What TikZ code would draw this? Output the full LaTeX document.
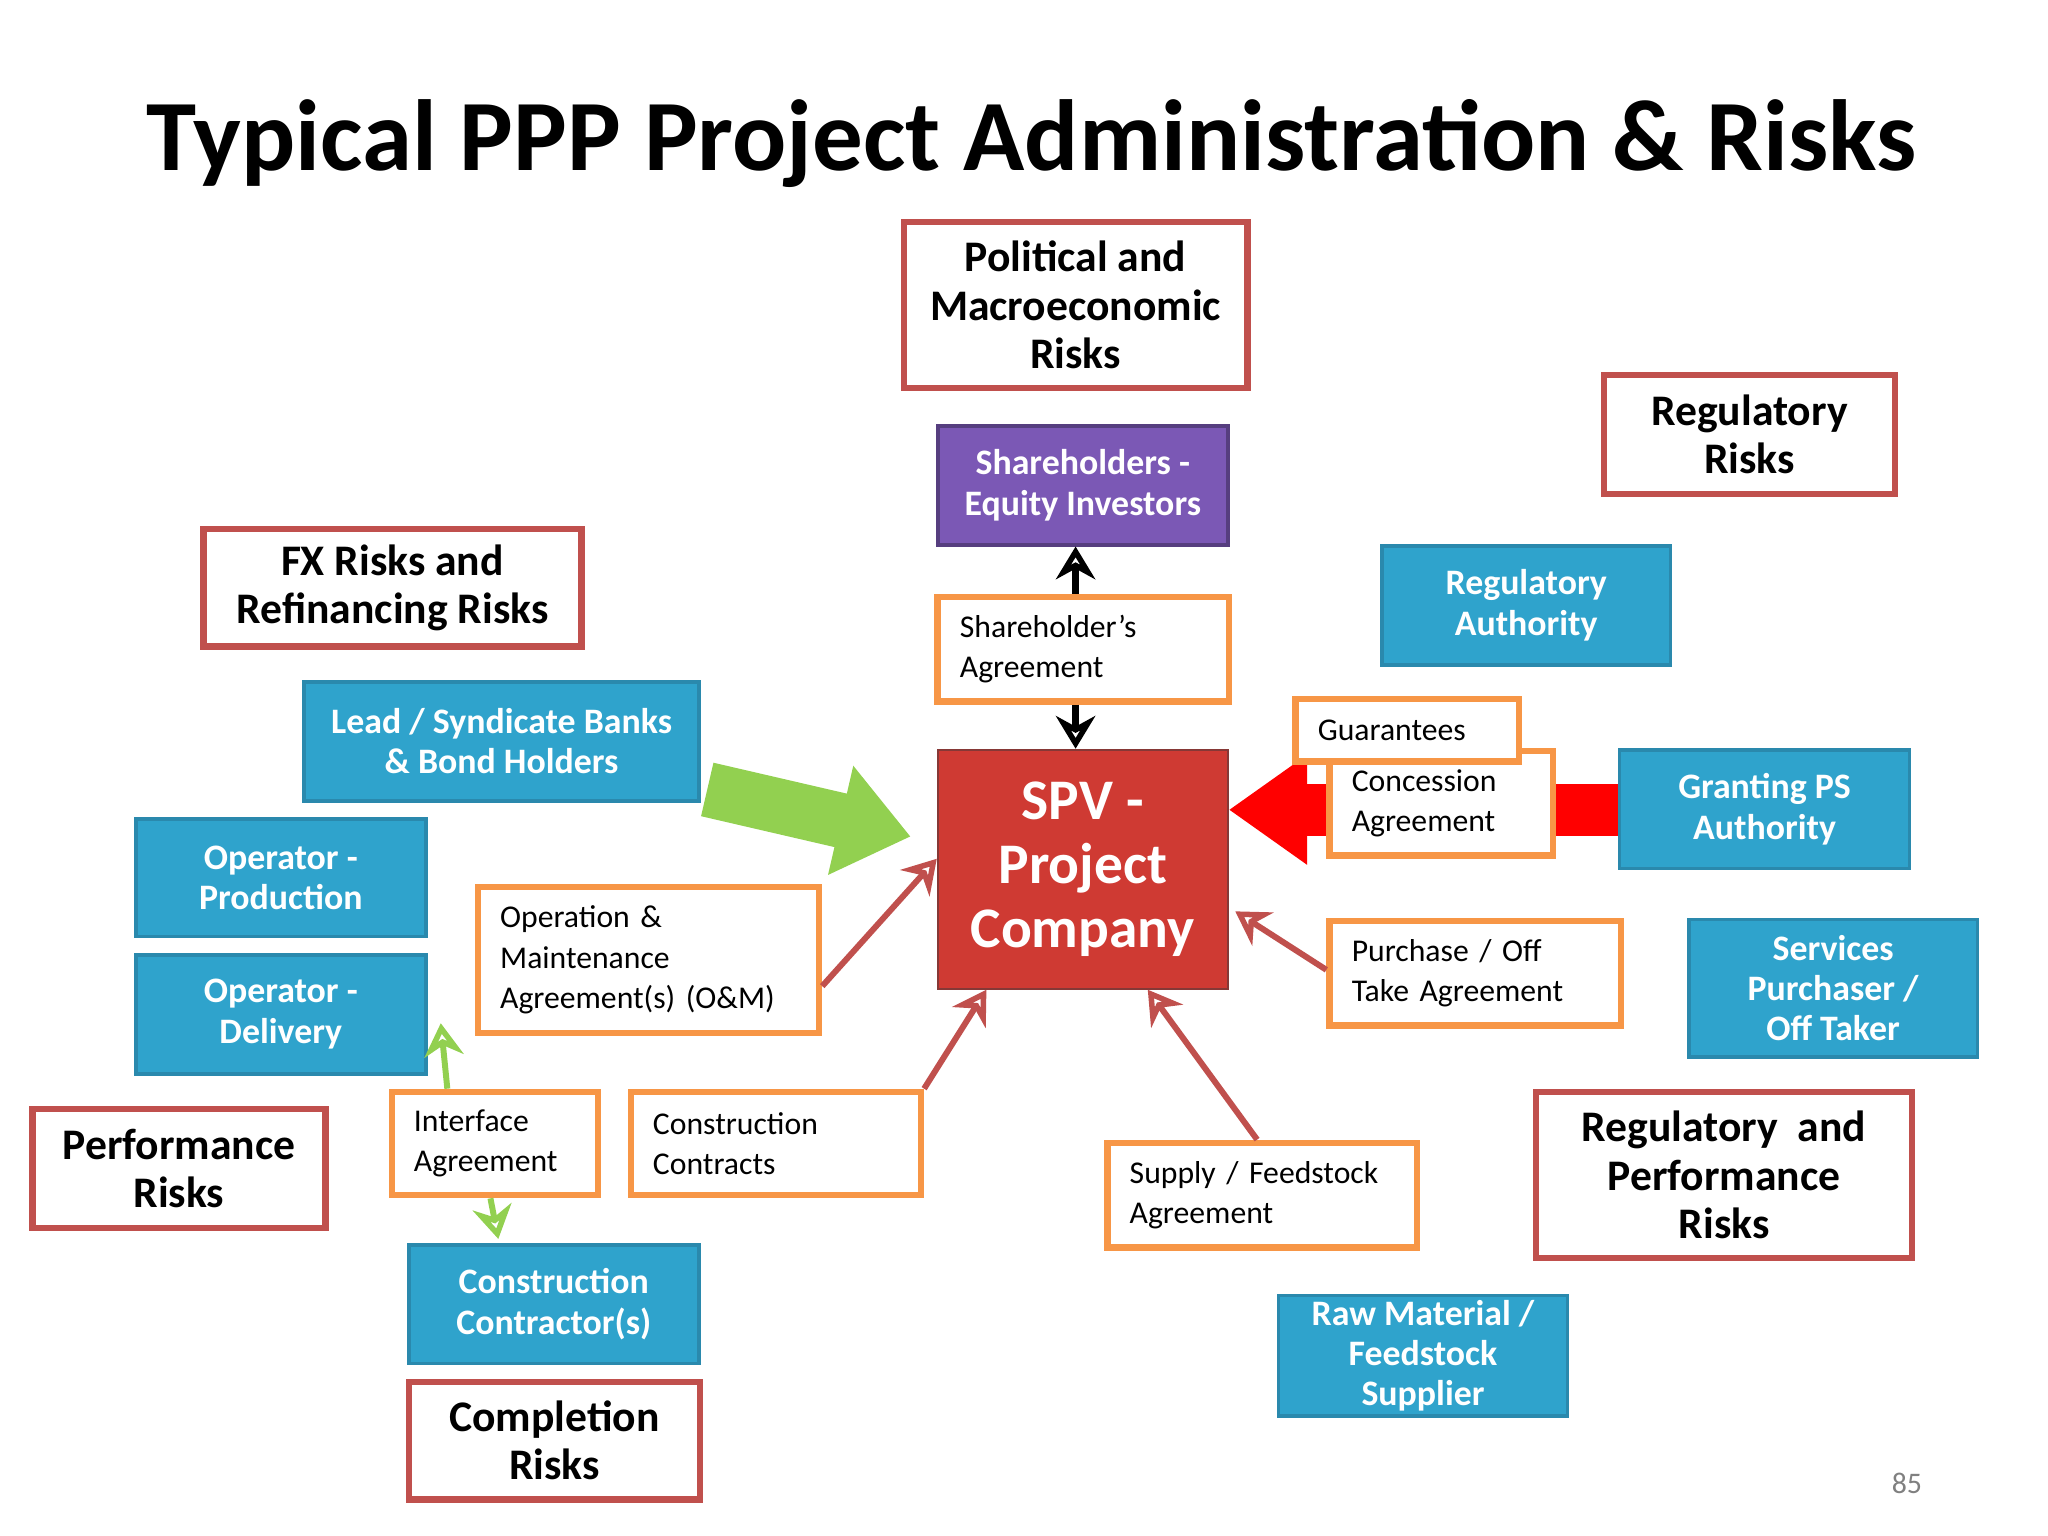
\documentclass[tikz,border=0pt]{standalone}
\usepackage{fontspec}
\setmainfont{Carlito}
\usetikzlibrary{arrows.meta}
\definecolor{rb}{HTML}{C0504D}
\definecolor{ob}{HTML}{F79646}
\definecolor{bl}{HTML}{2FA3CC}
\definecolor{blb}{HTML}{2A89AD}
\definecolor{pu}{HTML}{7B58B5}
\definecolor{spv}{HTML}{CF3A33}
\definecolor{gr}{HTML}{92D050}
\newcommand\bx[7]{\pgfmathsetmacro\bw{#5-#3}\node[#2,minimum width={(#5-#3)*0.1mm},minimum height={(#6-#4)*0.1mm}] (#1) at ({(#3+#5)/2},{(#4+#6)/2}) {#7};}
\tikzset{
 riskbox/.style={draw=rb,line width=1.4pt,fill=white,align=center,inner sep=0pt,font=\fontsize{9.5}{10.5}\selectfont\bfseries},
 agrbox/.style={draw=ob,line width=1.4pt,fill=white,align=left,inner sep=0pt,text width={(\bw-34)*0.1mm},font=\fontsize{6.9}{8.8}\selectfont},
 bluebox/.style={draw=blb,line width=0.8pt,fill=bl,text=white,align=center,inner sep=0pt,font=\fontsize{7.8}{8.8}\selectfont\bfseries},
 thinred/.style={draw=rb,line width=1.3pt,-{Stealth[length=2.5mm,width=3mm,open]}},
 thingr/.style={draw=gr,line width=1.3pt,-{Stealth[length=2.5mm,width=3mm,open]}},
 blk/.style={draw=black,line width=1.5pt,-{Stealth[length=2.5mm,width=3mm,open]}},
}
\begin{document}
\begin{tikzpicture}[x=0.01cm,y=-0.01cm]
\useasboundingbox (0,0) rectangle (1568,1176);
\node[font=\fontsize{22}{26}\selectfont\bfseries] (title) at (790,110) {Typical PPP Project Administration \& Risks};
\bx{grant}{bluebox}{1240}{574}{1462}{665}{Granting PS\\Authority}
\bx{spv}{draw=rb!70!black,fill=spv,text=white,align=center,inner sep=0pt,font=\fontsize{12.5}{14}\selectfont\bfseries}{718}{574}{940}{757}{SPV -\\Project\\Company}
\draw[draw=red,line width=0.4cm,-{Triangle[width=0.8cm,length=0.6cm]}] (grant.west|-0,620) -- (spv.east|-0,620);
\bx{lead}{bluebox}{233}{522}{535}{613}{Lead / Syndicate Banks\\\& Bond Holders}
\draw[draw=gr,line width=0.42cm,-{Triangle[width=0.82cm,length=0.55cm]}] ([shift={(5,-10)}]lead.south east) -- ([shift={(-20,-25)}]spv.west);
\bx{pol}{riskbox}{692}{170}{955}{297}{Political and\\Macroeconomic\\Risks}
\bx{regr}{riskbox}{1228}{287}{1451}{378}{Regulatory\\Risks}
\bx{fx}{riskbox}{156}{405}{445}{495}{FX Risks and\\Refinancing Risks}
\bx{perf}{riskbox}{25}{849}{249}{940}{Performance\\Risks}
\bx{comp}{riskbox}{313}{1058}{536}{1148}{Completion\\Risks}
\bx{rp}{riskbox}{1176}{836}{1464}{963}{Regulatory \ and\\Performance\\Risks}
\bx{sha}{agrbox}{718}{457}{941}{537}{Shareholder’s\\Agreement}
\bx{conc}{agrbox}{1018}{575}{1189}{655}{Concession\\Agreement}
\bx{guar}{agrbox}{992}{535}{1163}{583}{Guarantees}
\bx{om}{agrbox}{366}{679}{627}{791}{Operation \&\\Maintenance\\Agreement(s) (O\&M)}
\bx{pur}{agrbox}{1018}{705}{1241}{785}{Purchase / Off\\Take Agreement}
\bx{intf}{agrbox}{300}{836}{458}{915}{Interface\\Agreement}
\bx{cc}{agrbox}{483}{836}{705}{915}{Construction\\Contracts}
\bx{sup}{agrbox}{848}{875}{1085}{955}{Supply / Feedstock\\Agreement}
\bx{sh}{bluebox,fill=pu,draw=pu!70!black}{718}{326}{940}{417}{Shareholders -\\Equity Investors}
\bx{opp}{bluebox}{104}{627}{326}{717}{Operator -\\Production}
\bx{opd}{bluebox}{104}{731}{326}{822}{Operator -\\Delivery}
\bx{ccs}{bluebox}{313}{953}{535}{1044}{Construction\\Contractor(s)}
\bx{rega}{bluebox}{1058}{418}{1279}{509}{Regulatory\\Authority}
\bx{serv}{bluebox}{1293}{704}{1514}{809}{Services\\Purchaser /\\Off Taker}
\bx{raw}{bluebox}{979}{992}{1200}{1084}{Raw Material /\\Feedstock\\Supplier}
\coordinate (s1) at ([shift={(-6,0)}]sha.north);
\draw[blk] (s1) -- (s1|-sh.south);
\coordinate (s2) at ([shift={(-6,0)}]sha.south);
\draw[blk] (s2) -- (s2|-spv.north);
\draw[thinred] ([shift={(0,20)}]om.east) -- ([shift={(0,-8)}]spv.west);
\draw[thinred] ([shift={(0,40)}]pur.north west) -- ([shift={(5,-60)}]spv.south east);
\draw[thinred] (cc.north east) -- ([shift={(38,0)}]spv.south west);
\draw[thinred] ([shift={(117,0)}]sup.north west) -- ([shift={(-62,0)}]spv.south east);
\draw[thingr] ([shift={(45,0)}]intf.north west) -- ([shift={(10,-40)}]opd.south east);
\draw[thingr] ([shift={(78,0)}]intf.south west) -- ([shift={(70,-3)}]ccs.north west);
\node[text=gray,font=\fontsize{6.5}{8}\selectfont] (pg) at (1460,1136) {85};
\end{tikzpicture}
\end{document}
